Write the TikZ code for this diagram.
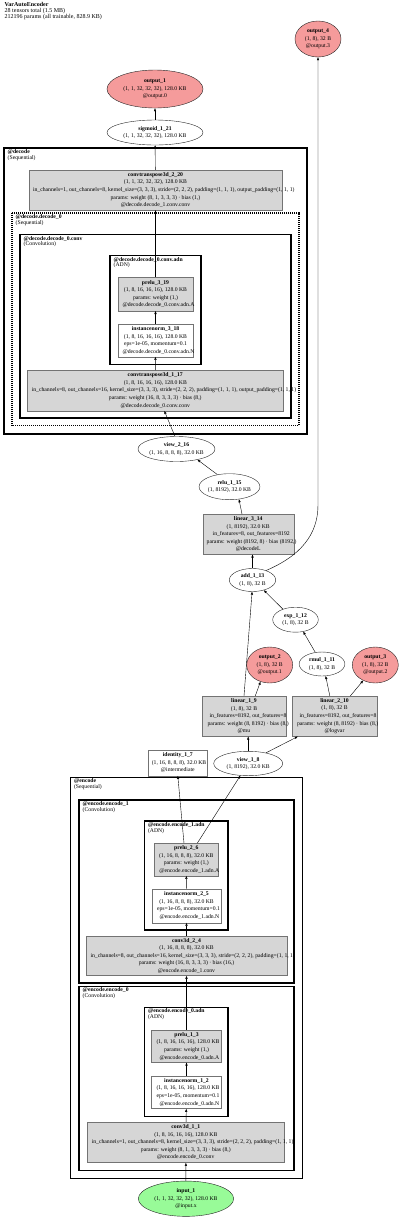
\documentclass[tikz,border=0pt]{standalone}
\usepackage{fontspec}
\setmainfont{Liberation Serif}
\usetikzlibrary{shapes.geometric,arrows.meta}
\definecolor{salida}{HTML}{F59B9B}
\definecolor{entrada}{HTML}{98FB98}
\definecolor{capa}{HTML}{D6D6D6}
\newcommand{\ovl}[2]{\makebox[#1pt][l]{#2}}
\begin{document}
\begin{tikzpicture}[x=1pt,y=-1pt,
    every node/.style={font=\fontsize{5.7}{7.6}\selectfont,align=center,inner sep=0pt},
    sz/.style 2 args={minimum width=#1pt,minimum height=#2pt},
    tens/.style={ellipse,draw=black!85,line width=.4pt,fill=white},
    outp/.style={tens,fill=salida},
    entr/.style={tens,fill=entrada},
    modl/.style={rectangle,draw=black!55,line width=.4pt,fill=capa},
    func/.style={rectangle,draw=black!55,line width=.4pt,fill=white},
    clus/.style={line width=1.3pt},
    clab/.style={anchor=north west,align=left,font=\fontsize{5.7}{5.4}\selectfont},
    conn/.style={-{Triangle[length=3pt,width=2.2pt]},line width=.4pt}]
    \useasboundingbox (0,0) rectangle (400,1219);
    \node[clab,font=\fontsize{6}{5.4}\selectfont] (title) at (4.5,2.3) {\textbf{VarAutoEncoder}\\28 tensors total (1.5 MB)\\212196 params (all trainable, 828.9 KB)};
    % Agrupaciones (decoder arriba, encoder abajo).
    \draw[clus] (4,148) rectangle (307,434);
    \draw[clus,dash pattern=on 1pt off 1pt] (12,213) rectangle (299,425.7);
    \draw[clus] (20,234.7) rectangle (291,418);
    \draw[clus] (110,255.7) rectangle (201,364.3);
    \draw[clus] (70.3,777.3) rectangle (302.3,1178.7);
    \draw[clus] (79,800) rectangle (294,983);
    \draw[clus] (144.3,821) rectangle (228,930);
    \draw[clus] (79,986.3) rectangle (294,1170.3);
    \draw[clus] (144.3,1007.3) rectangle (228,1116.7);
    \node[clab] (lbdec) at (7.5,149.5) {\textbf{@decode}\\(Sequential)};
    \node[clab] (lbdec0) at (15.5,214.5) {\textbf{@decode.decode\_0}\\(Sequential)};
    \node[clab] (lbdecc) at (23.5,236.2) {\textbf{@decode.decode\_0.conv}\\(Convolution)};
    \node[clab] (lbdeca) at (113.5,257.2) {\textbf{@decode.decode\_0.conv.adn}\\(ADN)};
    \node[clab] (lbenc) at (73.8,778.8) {\textbf{@encode}\\(Sequential)};
    \node[clab] (lbenc1) at (82.5,801.5) {\textbf{@encode.encode\_1}\\(Convolution)};
    \node[clab] (lbenc1a) at (147.8,822.5) {\textbf{@encode.encode\_1.adn}\\(ADN)};
    \node[clab] (lbenc0) at (82.5,987.8) {\textbf{@encode.encode\_0}\\(Convolution)};
    \node[clab] (lbenc0a) at (147.8,1008.8) {\textbf{@encode.encode\_0.adn}\\(ADN)};
    % Tensores y capas.
    \node[outp,sz={46}{36}] (out4) at (318,39) {\textbf{output\_4}\\(1, 8), 32 B\\@output.3};
    \node[outp,sz={96}{38}] (out1) at (155,89) {\textbf{output\_1}\\(1, 1, 32, 32, 32), 128.0 KB\\@output.0};
    \node[tens,sz={96}{25}] (sig) at (155,132.5) {\textbf{sigmoid\_1\_21}\\(1, 1, 32, 32, 32), 128.0 KB};
    \node[modl,sz={253}{40}] (ct220) at (155.5,190) {\textbf{convtranspose3d\_2\_20}\\(1, 1, 32, 32, 32), 128.0 KB\\\ovl{245}{in\_channels=1, out\_channels=8, kernel\_size=(3, 3, 3), stride=(2, 2, 2), padding=(1, 1, 1), output\_padding=(1, 1, 1)}\\params: weight (8, 1, 3, 3, 3) · bias (1,)\\@decode.decode\_1.conv.conv};
    \node[modl,sz={74.4}{33.6}] (pr319) at (155.5,294) {\textbf{prelu\_3\_19}\\(1, 8, 16, 16, 16), 128.0 KB\\params: weight (1,)\\\ovl{66}{@decode.decode\_0.conv.adn.A}};
    \node[func,sz={75}{32.4}] (in318) at (155.5,340.5) {\textbf{instancenorm\_3\_18}\\(1, 8, 16, 16, 16), 128.0 KB\\eps=1e-05, momentum=0.1\\\ovl{66}{@decode.decode\_0.conv.adn.N}};
    \node[modl,sz={256}{40.4}] (ct117) at (155.3,390.5) {\textbf{convtranspose3d\_1\_17}\\(1, 8, 16, 16, 16), 128.0 KB\\\ovl{247}{in\_channels=8, out\_channels=16, kernel\_size=(3, 3, 3), stride=(2, 2, 2), padding=(1, 1, 1), output\_padding=(1, 1, 1)}\\params: weight (16, 8, 3, 3, 3) · bias (8,)\\@decode.decode\_0.conv.conv};
    \node[tens,sz={74.4}{25}] (v216) at (176.5,449) {\textbf{view\_2\_16}\\(1, 16, 8, 8, 8), 32.0 KB};
    \node[tens,sz={58.4}{26}] (relu) at (229.5,486.7) {\textbf{relu\_1\_15}\\(1, 8192), 32.0 KB};
    \node[modl,sz={91}{40}] (lin3) at (248.2,534.3) {\textbf{linear\_3\_14}\\(1, 8192), 32.0 KB\\\ovl{71}{in\_features=8, out\_features=8192}\\\ovl{83}{params: weight (8192, 8) · bias (8192,)}\\@decodeL};
    \node[tens,sz={46.4}{23}] (add) at (252.5,580) {\textbf{add\_1\_13}\\(1, 8), 32 B};
    \node[tens,sz={45.6}{25}] (exp) at (295.5,619.7) {\textbf{exp\_1\_12}\\(1, 8), 32 B};
    \node[tens,sz={45.7}{24}] (rmul) at (322,664) {\textbf{rmul\_1\_11}\\(1, 8), 32 B};
    \node[outp,sz={46}{36}] (out2) at (269.7,665) {\textbf{output\_2}\\(1, 8), 32 B\\@output.1};
    \node[outp,sz={46}{36}] (out3) at (375.3,665) {\textbf{output\_3}\\(1, 8), 32 B\\@output.2};
    \node[modl,sz={83.4}{40.3}] (lin1) at (244,716.2) {\textbf{linear\_1\_9}\\(1, 8), 32 B\\\ovl{69}{in\_features=8192, out\_features=8}\\\ovl{73}{params: weight (8, 8192) · bias (8,)}\\@mu};
    \node[modl,sz={84.4}{40.3}] (lin2) at (334.5,716.2) {\textbf{linear\_2\_10}\\(1, 8), 32 B\\\ovl{70}{in\_features=8192, out\_features=8}\\\ovl{75}{params: weight (8, 8192) · bias (8,)}\\@logvar};
    \node[func,sz={59}{26}] (id17) at (177.8,762.7) {\textbf{identity\_1\_7}\\\ovl{52}{(1, 16, 8, 8, 8), 32.0 KB}\\@intermediate};
    \node[tens,sz={69}{24.4}] (v18) at (248.2,763.5) {\textbf{view\_1\_8}\\(1, 8192), 32.0 KB};
    \node[modl,sz={64}{32.4}] (pr26) at (186.3,859.5) {\textbf{prelu\_2\_6}\\(1, 16, 8, 8, 8), 32.0 KB\\params: weight (1,)\\\ovl{54}{@encode.encode\_1.adn.A}};
    \node[func,sz={68.4}{34}] (in25) at (186.5,905.7) {\textbf{instancenorm\_2\_5}\\(1, 16, 8, 8, 8), 32.0 KB\\\ovl{59}{eps=1e-05, momentum=0.1}\\\ovl{54}{@encode.encode\_1.adn.N}};
    \node[modl,sz={200.4}{39.7}] (c24) at (186.5,955.8) {\textbf{conv3d\_2\_4}\\(1, 16, 8, 8, 8), 32.0 KB\\\ovl{192}{in\_channels=8, out\_channels=16, kernel\_size=(3, 3, 3), stride=(2, 2, 2), padding=(1, 1, 1)}\\params: weight (16, 8, 3, 3, 3) · bias (16,)\\@encode.encode\_1.conv};
    \node[modl,sz={70}{32.3}] (pr13) at (186.5,1046.2) {\textbf{prelu\_1\_3}\\\ovl{60}{(1, 8, 16, 16, 16), 128.0 KB}\\params: weight (1,)\\\ovl{54}{@encode.encode\_0.adn.A}};
    \node[func,sz={70}{32.7}] (in12) at (186.5,1092.3) {\textbf{instancenorm\_1\_2}\\\ovl{60}{(1, 8, 16, 16, 16), 128.0 KB}\\\ovl{60}{eps=1e-05, momentum=0.1}\\\ovl{54}{@encode.encode\_0.adn.N}};
    \node[modl,sz={197}{40.7}] (c11) at (185.8,1142.3) {\textbf{conv3d\_1\_1}\\(1, 8, 16, 16, 16), 128.0 KB\\\ovl{188}{in\_channels=1, out\_channels=8, kernel\_size=(3, 3, 3), stride=(2, 2, 2), padding=(1, 1, 1)}\\params: weight (8, 1, 3, 3, 3) · bias (8,)\\@encode.encode\_0.conv};
    \node[entr,sz={95.4}{35.3}] (inp) at (186,1198.7) {\textbf{input\_1}\\(1, 1, 32, 32, 32), 128.0 KB\\@input.x};
    % Flujo de datos.
    \coordinate (up4) at (318,505);
    \draw[conn] (inp) -- (c11);
    \draw[conn] (c11) -- (in12);
    \draw[conn] (in12) -- (pr13);
    \draw[conn] (pr13) -- (c24);
    \draw[conn] (c24) -- (in25);
    \draw[conn] (in25) -- (pr26);
    \draw[conn] (pr26.98) -- (id17.south);
    \draw[conn] (pr26.56) -- (v18.237);
    \draw[conn] (v18.north) -- (v18.north |- lin1.south);
    \draw[conn] (v18.31) -- (lin2.209);
    \draw[conn] (lin1.61) -- (out2.241);
    \draw[conn] (lin2.103) -- (rmul.287);
    \draw[conn] (lin2.52) -- (out3.232);
    \draw[conn] (rmul.120) -- (exp.303);
    \draw[conn] (exp.140) -- (add.318);
    \draw[conn] (lin1.north) -- (add.268);
    \draw[conn] (add.35) .. controls (300,556) and (318,535) .. (up4) -- (out4.south);
    \draw[conn] (add.north) -- (add.north |- lin3.south);
    \draw[conn] (lin3.107) -- (relu.307);
    \draw[conn] (relu.135) -- (v216.333);
    \draw[conn] (v216.97) -- (ct117.294);
    \draw[conn] (ct117) -- (in318);
    \draw[conn] (in318) -- (pr319);
    \draw[conn] (pr319) -- (ct220);
    \draw[conn] (ct220) -- (sig);
    \draw[conn] (sig) -- (out1);
\end{tikzpicture}
\end{document}
